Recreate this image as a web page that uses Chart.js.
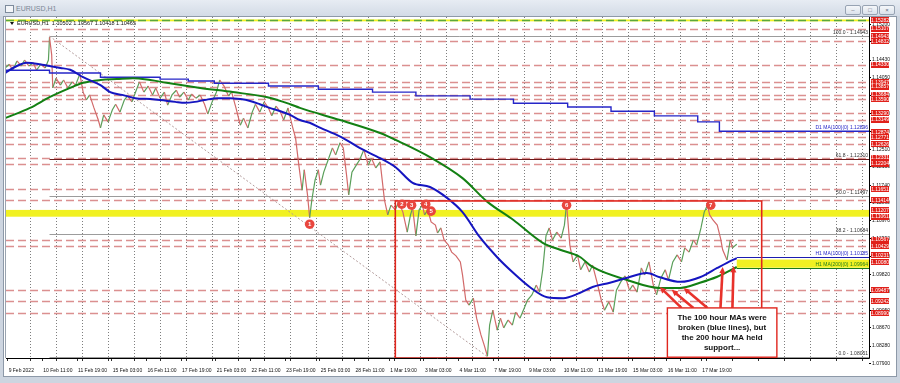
<!DOCTYPE html>
<html>
<head>
<meta charset="utf-8">
<title>EURUSD,H1</title>
<script src="https://cdn.jsdelivr.net/npm/chart.js@4.4.1/dist/chart.umd.min.js"></script>
<style>
  html, body { margin: 0; padding: 0; }
  body { width: 900px; height: 383px; overflow: hidden; position: relative; background: #cdd5e0; font-family: "Liberation Sans", Arial, sans-serif; }
  .titlebar { position: absolute; left: 0; top: 0; width: 900px; height: 16px; background: linear-gradient(#e7ecf3, #d3dbe6); }
  .titlebar .icon { position: absolute; left: 5px; top: 5px; width: 7px; height: 6px; border: 1px solid #7d8b9c; background: #f4f6f9; }
  .titlebar .name { position: absolute; left: 16px; top: 5px; font-size: 7px; color: #7b8796; }
  .btn { position: absolute; top: 5px; width: 14px; height: 8px; border: 1px solid #97a3b3; border-radius: 2px; background: linear-gradient(#f5f7fa, #dbe2eb); font-size: 6px; line-height: 8px; text-align: center; color: #5d6a7a; }
  .panel { position: absolute; left: 4px; top: 17px; width: 892px; height: 359px; background: #fff; box-shadow: 0 0 0 1px #8d99a8; }
  canvas { display: block; }
</style>
</head>
<body>
<div class="titlebar">
  <div class="icon"></div><div class="name">EURUSD,H1</div>
  <div class="btn" style="left:845px">&ndash;</div><div class="btn" style="left:862px">&#9633;</div><div class="btn" style="left:879px">&times;</div>
</div>
<div class="panel"><canvas id="chart" width="892" height="359"></canvas></div>
<script>
// x = hourly bar number counted from 9 Feb 2022 00:00 (weekend hours skipped)
const xMin = 1.85, xMax = 798;
const yMin = 1.08023, yMax = 1.15355;

const xLabelHours = [3, 35, 67, 99, 131, 163, 195, 227, 259, 291, 323, 355, 387, 419, 451, 483, 515, 547, 579, 611, 643];
const xLabelTexts = ['9 Feb 2022', '10 Feb 11:00', '11 Feb 19:00', '15 Feb 03:00', '16 Feb 11:00', '17 Feb 19:00',
  '21 Feb 03:00', '22 Feb 11:00', '23 Feb 19:00', '25 Feb 03:00', '28 Feb 11:00', '1 Mar 19:00', '3 Mar 03:00',
  '4 Mar 11:00', '7 Mar 19:00', '9 Mar 03:00', '10 Mar 11:00', '11 Mar 19:00', '15 Mar 03:00', '16 Mar 11:00', '17 Mar 19:00'];
const dayStartHours = [24, 48, 72, 96, 120, 144, 168, 192, 216, 240, 264, 288, 312, 336, 360, 384, 408, 432, 456,
  480, 504, 528, 552, 576, 600, 624, 648, 672, 696, 720, 744, 768, 792];
const yTickValues = [1.07900, 1.08280, 1.08670, 1.09050, 1.09440, 1.09820, 1.10210, 1.10590, 1.10970, 1.11360,
  1.11740, 1.12130, 1.12510, 1.12900, 1.13280, 1.13670, 1.14050, 1.14430, 1.14820, 1.15200];

const priceHour = [
  1, 5, 8, 12, 16, 19, 23, 27, 30, 34,
  38, 41, 42, 44, 45, 48, 52, 55, 59, 63,
  66, 70, 73, 76, 79, 83, 87, 89, 92, 96,
  100, 103, 107, 111, 114, 118, 122, 125, 129, 133,
  137, 140, 144, 148, 151, 155, 159, 162, 166, 170,
  173, 177, 181, 185, 188, 192, 196, 199, 203, 207,
  210, 214, 218, 221, 225, 229, 232, 236, 240, 244,
  247, 251, 255, 258, 262, 266, 269, 272, 275, 277,
  280, 282, 284, 287, 290, 292, 295, 299, 303, 306,
  310, 313, 316, 318, 321, 325, 328, 332, 336, 339,
  343, 347, 351, 354, 357, 361, 364, 368, 372, 375,
  377, 380, 383, 386, 388, 391, 394, 398, 400, 403,
  406, 410, 413, 417, 421, 423, 426, 429, 433, 436,
  440, 443, 446, 448, 451, 455, 458, 461, 465, 469,
  472, 476, 480, 483, 487, 491, 494, 497, 500, 503,
  506, 510, 514, 517, 519, 522, 525, 529, 532, 536,
  540, 543, 547, 551, 554, 558, 562, 565, 569, 573,
  577, 580, 584, 588, 591, 595, 599, 602, 606, 610,
  613, 617, 621, 625, 628, 632, 636, 639, 643, 646,
  649, 651, 654, 658, 661, 663, 667, 670, 672, 676];
const priceClose = [
  1.1426, 1.1434, 1.1421, 1.1441, 1.1430, 1.1443, 1.1430, 1.1437, 1.1421, 1.1434,
  1.1426, 1.1443, 1.1492, 1.1454, 1.1383, 1.1404, 1.1389, 1.1400, 1.1383, 1.1396,
  1.1389, 1.1413, 1.1374, 1.1357, 1.1368, 1.1340, 1.1314, 1.1297, 1.1325, 1.1310,
  1.1336, 1.1348, 1.1331, 1.1357, 1.1366, 1.1353, 1.1378, 1.1396, 1.1374, 1.1387,
  1.1368, 1.1383, 1.1361, 1.1374, 1.1346, 1.1368, 1.1378, 1.1363, 1.1374, 1.1357,
  1.1370, 1.1361, 1.1368, 1.1348, 1.1327, 1.1353, 1.1374, 1.1400, 1.1387, 1.1366,
  1.1374, 1.1340, 1.1303, 1.1318, 1.1297, 1.1331, 1.1348, 1.1331, 1.1353, 1.1340,
  1.1323, 1.1344, 1.1331, 1.1314, 1.1340, 1.1301, 1.1275, 1.1217, 1.1163, 1.1207,
  1.1153, 1.1104, 1.1142, 1.1185, 1.1207, 1.1174, 1.1202, 1.1228, 1.1254, 1.1239,
  1.1265, 1.1254, 1.1196, 1.1153, 1.1202, 1.1217, 1.1228, 1.1250, 1.1217, 1.1232,
  1.1211, 1.1224, 1.1142, 1.1110, 1.1131, 1.1121, 1.1138, 1.1116, 1.1073, 1.1110,
  1.1125, 1.1065, 1.1121, 1.1131, 1.1110, 1.1121, 1.1095, 1.1088, 1.1071, 1.1082,
  1.1056, 1.1045, 1.1030, 1.1022, 1.1009, 1.0981, 1.0927, 1.0916, 1.0931, 1.0888,
  1.0852, 1.0830, 1.0806, 1.0873, 1.0905, 1.0862, 1.0888, 1.0867, 1.0884, 1.0873,
  1.0901, 1.0888, 1.0910, 1.0927, 1.0938, 1.0959, 1.0944, 1.0992, 1.1065, 1.1082,
  1.1056, 1.1073, 1.1060, 1.1088, 1.1133, 1.1045, 1.1009, 1.1024, 1.0992, 1.1009,
  1.0987, 1.1002, 1.0966, 1.0927, 1.0905, 1.0923, 1.0901, 1.0948, 1.0966, 1.0979,
  1.0948, 1.0959, 1.0944, 1.0996, 1.0981, 1.1009, 1.0959, 1.0938, 1.0974, 1.0992,
  1.0970, 1.1009, 1.1024, 1.1009, 1.1039, 1.1030, 1.1056, 1.1045, 1.1082, 1.1116,
  1.1131, 1.1110, 1.1099, 1.1088, 1.1060, 1.1035, 1.1013, 1.1056, 1.1039, 1.1047];

// 100 hour MA (blue)
const ma100Hour = [1, 10, 21, 33, 42, 52, 61, 73, 89, 98, 109, 121, 135, 144, 158, 167, 176, 185, 197, 208,
  218, 227, 236, 245, 255, 264, 273, 282, 292, 305, 316, 328, 347, 361, 377, 393, 409, 423, 439, 455,
  470, 485, 501, 516, 531, 543, 559, 575, 593, 605, 624, 642, 658, 667, 676];
const ma100Value = [1.1415, 1.1428, 1.1437, 1.1434, 1.1430, 1.1426, 1.1422, 1.1406, 1.1389, 1.1374,
  1.1368, 1.1361, 1.1359, 1.1357, 1.1353, 1.1351, 1.1353, 1.1357, 1.1361, 1.1361,
  1.1359, 1.1355, 1.1348, 1.1340, 1.1333, 1.1325, 1.1314, 1.1308, 1.1297, 1.1284,
  1.1271, 1.1254, 1.1232, 1.1213, 1.1179, 1.1170, 1.1146, 1.1116, 1.1062, 1.1019,
  1.0985, 1.0955, 1.0933, 1.0931, 1.0942, 1.0955, 1.0964, 1.0975, 1.0985, 1.0976,
  1.0966, 1.0976, 1.0996, 1.1007, 1.1017];
// 200 hour MA (green)
const ma200Hour = [1, 24, 42, 61, 73, 89, 104, 119, 135, 150, 181, 211, 243, 264, 273, 310, 347, 365, 393, 423,
  446, 470, 497, 513, 531, 543, 575, 605, 624, 642, 658, 676];
const ma200Value = [1.1318, 1.1340, 1.1363, 1.1383, 1.1394, 1.1400, 1.1402, 1.1404, 1.1400, 1.1394,
  1.1383, 1.1374, 1.1363, 1.1348, 1.1340, 1.1314, 1.1286, 1.1267, 1.1234, 1.1189,
  1.1138, 1.1099, 1.1050, 1.1035, 1.1020, 1.0998, 1.0970, 1.0953, 1.0953, 1.0964, 1.0977, 1.0998];
// daily 100 MA (steps once a day)
const d1Hour = [1, 42, 89, 144, 170, 194, 244, 290, 340, 380, 430, 470, 520, 560, 600, 640, 660, 798];
const d1Value = [1.1421, 1.1415, 1.1406, 1.1402, 1.1398, 1.1393, 1.1387, 1.1380, 1.1374, 1.1366,
  1.1359, 1.1350, 1.1342, 1.1333, 1.1323, 1.1310, 1.1290, 1.1290];

const levelPrices = [1.15107, 1.14832, 1.14330, 1.13947, 1.13857, 1.13684, 1.13590, 1.13290, 1.13149, 1.12874,
  1.12771, 1.12626, 1.12331, 1.12204, 1.11651, 1.11414, 1.10567, 1.10429, 1.09487, 1.09242, 1.08990];
const axisLabelPrices = [1.15282, 1.15107, 1.14943, 1.14832, 1.14330, 1.13947, 1.13857, 1.13684, 1.13590, 1.13290,
  1.13149, 1.12874, 1.12771, 1.12626, 1.12331, 1.12204, 1.11651, 1.11414, 1.11207, 1.11061,
  1.10567, 1.10429, 1.10231, 1.10080, 1.09487, 1.09242, 1.08990];
const topLevel = 1.15282;
const bandLow = [1.15262, 1.11061, 1.09964];
const bandHigh = [1.15302, 1.11207, 1.10140];
const bandFromHour = [xMin, xMin, 676];

const fibPrices = [1.14943, 1.12310, 1.11497, 1.10684, 1.08051];
const fibNames = ['100.0', '61.8', '50.0', '38.2', '0.0'];
const fibAnchorHour = [42, 446];
const fibAnchorPrice = [1.14943, 1.08051];

const lastHour = 676;
const maLinePrices = [1.12896, 1.10185, 1.09964];
const maLineNames = ['D1 MA(100)(0) 1.12896', 'H1 MA(100)(0) 1.10185', 'H1 MA(200)(0) 1.09964'];

const markerHour = [282, 367, 376, 389, 394, 519, 652];
const markerPrice = [1.1090, 1.1133, 1.1131, 1.1133, 1.1118, 1.1131, 1.1131];
const markerText = ['1', '2', '3', '4', '5', '6', '7'];

const boxHour = [361, 699];
const boxPrice = [1.0802, 1.1140];
const noteHour = [612, 713];
const notePrice = [1.0804, 1.0910];
const noteLines = ['The 100 hour MAs were', 'broken (blue lines), but', 'the 200 hour MA held', 'support...'];
const arrowFromHour = [625, 636, 649, 661, 672];
const arrowFromPrice = [1.0910, 1.0910, 1.0910, 1.0910, 1.0910];
const arrowToHour = [605, 616, 627, 663, 673];
const arrowToPrice = [1.0955, 1.0949, 1.0953, 1.0998, 1.1000];

const headerText = 'EURUSD,H1  1.10502 1.10567 1.10418 1.10465';

const FONT = '"Liberation Sans", Arial, sans-serif';
const fmt = v => v.toFixed(5);
const pts = (xs, ys) => xs.map((h, i) => ({ x: h, y: ys[i] }));

function hline(ctx, x0, x1, yy) {
  ctx.beginPath();
  ctx.moveTo(x0, yy);
  ctx.lineTo(x1, yy);
  ctx.stroke();
}

function arrow(ctx, x0, y0, x1, y1) {
  const ang = Math.atan2(y1 - y0, x1 - x0);
  const head = 7;
  ctx.beginPath();
  ctx.moveTo(x0, y0);
  ctx.lineTo(x1 - Math.cos(ang) * head * 0.7, y1 - Math.sin(ang) * head * 0.7);
  ctx.stroke();
  ctx.beginPath();
  ctx.moveTo(x1, y1);
  ctx.lineTo(x1 - head * Math.cos(ang - 0.45), y1 - head * Math.sin(ang - 0.45));
  ctx.lineTo(x1 - head * Math.cos(ang + 0.45), y1 - head * Math.sin(ang + 0.45));
  ctx.closePath();
  ctx.fill();
}

const drawings = {
  id: 'drawings',
  beforeDatasetsDraw(chart) {
    const { ctx, chartArea: a, scales: { x, y } } = chart;
    const py = p => Math.round(y.getPixelForValue(p)) + 0.5;

    // day separators (dotted) with small ticks under the axis
    ctx.save();
    ctx.lineWidth = 1;
    dayStartHours.forEach(h => {
      const gx = Math.round(x.getPixelForValue(h)) + 0.5;
      if (gx > a.right) return;
      ctx.strokeStyle = '#7e7e7e';
      ctx.setLineDash([1, 2]);
      ctx.beginPath(); ctx.moveTo(gx, a.top); ctx.lineTo(gx, a.bottom); ctx.stroke();
      ctx.setLineDash([]);
      ctx.strokeStyle = '#333';
      ctx.beginPath(); ctx.moveTo(gx, a.bottom); ctx.lineTo(gx, a.bottom + 3); ctx.stroke();
    });
    xLabelHours.forEach(h => {
      const gx = Math.round(x.getPixelForValue(h)) + 0.5;
      ctx.strokeStyle = '#333';
      ctx.beginPath(); ctx.moveTo(gx, a.bottom); ctx.lineTo(gx, a.bottom + 3); ctx.stroke();
    });
    ctx.restore();

    ctx.save();
    ctx.beginPath();
    ctx.rect(a.left, a.top, a.right - a.left, a.bottom - a.top);
    ctx.clip();

    // yellow zones
    ctx.fillStyle = '#f1f122';
    bandLow.forEach((lo, i) => {
      const left = x.getPixelForValue(bandFromHour[i]);
      const top = y.getPixelForValue(bandHigh[i]);
      ctx.fillRect(left, top, a.right - left, y.getPixelForValue(lo) - top);
    });

    // red dashed levels
    ctx.lineWidth = 1.6;
    ctx.setLineDash([8, 4]);
    ctx.strokeStyle = '#db9090';
    levelPrices.forEach(p => hline(ctx, a.left, a.right, py(p)));
    ctx.strokeStyle = '#5aa83a';
    hline(ctx, a.left, a.right, py(topLevel));

    // fibonacci retracement
    ctx.setLineDash([]);
    ctx.lineWidth = 1;
    const fx = x.getPixelForValue(fibAnchorHour[0]);
    fibPrices.forEach((p, i) => {
      ctx.strokeStyle = fibNames[i] === '61.8' ? '#6e1c1c' : '#9c9c9c';
      hline(ctx, fx, a.right, py(p));
    });
    ctx.setLineDash([2, 2]);
    ctx.strokeStyle = '#b39c9c';
    ctx.beginPath();
    ctx.moveTo(fx, y.getPixelForValue(fibAnchorPrice[0]));
    ctx.lineTo(x.getPixelForValue(fibAnchorHour[1]), y.getPixelForValue(fibAnchorPrice[1]));
    ctx.stroke();
    ctx.restore();
  },

  afterDatasetsDraw(chart) {
    const { ctx, chartArea: a, scales: { x, y } } = chart;
    const py = p => Math.round(y.getPixelForValue(p)) + 0.5;
    ctx.save();
    ctx.beginPath();
    ctx.rect(a.left, a.top, a.right - a.left, a.bottom - a.top);
    ctx.clip();

    // current MA values carried to the right edge
    const xLast = x.getPixelForValue(lastHour);
    ctx.lineWidth = 1.2;
    ctx.strokeStyle = '#1c1cb0';
    hline(ctx, xLast, a.right, py(maLinePrices[1]));
    ctx.strokeStyle = '#1a7a1a';
    hline(ctx, xLast, a.right, py(maLinePrices[2]));

    // right side captions
    ctx.font = '5px ' + FONT;
    ctx.textAlign = 'right';
    ctx.textBaseline = 'bottom';
    ctx.fillStyle = '#333';
    fibPrices.forEach((p, i) => ctx.fillText(fibNames[i] + ' - ' + fmt(p), a.right - 1, py(p) - 1));
    const capColors = ['#2626c8', '#2626c8', '#1f7d1f'];
    maLinePrices.forEach((p, i) => {
      ctx.fillStyle = capColors[i];
      ctx.fillText(maLineNames[i], a.right - 1, py(p) - 1);
    });

    // red study box
    ctx.strokeStyle = '#e0261e';
    ctx.lineWidth = 1.6;
    const bx0 = x.getPixelForValue(boxHour[0]), bx1 = x.getPixelForValue(boxHour[1]);
    const by0 = y.getPixelForValue(boxPrice[1]), by1 = y.getPixelForValue(boxPrice[0]);
    ctx.strokeRect(bx0, by0, bx1 - bx0, by1 - by0);

    // arrows
    ctx.strokeStyle = '#e8322b';
    ctx.fillStyle = '#e8322b';
    ctx.lineWidth = 2.6;
    arrowFromHour.forEach((h, i) => arrow(ctx,
      x.getPixelForValue(h), y.getPixelForValue(arrowFromPrice[i]),
      x.getPixelForValue(arrowToHour[i]), y.getPixelForValue(arrowToPrice[i])));

    // note
    const nx0 = x.getPixelForValue(noteHour[0]), nx1 = x.getPixelForValue(noteHour[1]);
    const ny0 = y.getPixelForValue(notePrice[1]), ny1 = y.getPixelForValue(notePrice[0]);
    ctx.fillStyle = '#fff';
    ctx.fillRect(nx0, ny0, nx1 - nx0, ny1 - ny0);
    ctx.lineWidth = 1.4;
    ctx.strokeStyle = '#e0261e';
    ctx.strokeRect(nx0, ny0, nx1 - nx0, ny1 - ny0);
    ctx.fillStyle = '#111';
    ctx.font = 'bold 8px ' + FONT;
    ctx.textAlign = 'center';
    ctx.textBaseline = 'middle';
    noteLines.forEach((t, i) => ctx.fillText(t, (nx0 + nx1) / 2, ny0 + 10 + i * 10));

    // numbered touches
    ctx.font = 'bold 6px ' + FONT;
    markerHour.forEach((h, i) => {
      const cx = x.getPixelForValue(h), cy = y.getPixelForValue(markerPrice[i]);
      ctx.fillStyle = '#e8463e';
      ctx.beginPath();
      ctx.arc(cx, cy, 4.8, 0, Math.PI * 2);
      ctx.fill();
      ctx.fillStyle = '#fff';
      ctx.fillText(markerText[i], cx, cy + 0.5);
    });

    // symbol header
    ctx.fillStyle = '#111';
    ctx.beginPath();
    ctx.moveTo(a.left + 4, a.top + 5);
    ctx.lineTo(a.left + 8, a.top + 5);
    ctx.lineTo(a.left + 6, a.top + 8);
    ctx.closePath();
    ctx.fill();
    ctx.font = '5.5px ' + FONT;
    ctx.textAlign = 'left';
    ctx.fillText(headerText, a.left + 11, a.top + 6.5);
    ctx.restore();
  },

  afterDraw(chart) {
    const { ctx, chartArea: a, scales: { y } } = chart;
    ctx.save();
    ctx.strokeStyle = '#000';
    ctx.lineWidth = 1;
    ctx.beginPath();
    ctx.moveTo(a.right + 0.5, a.top);
    ctx.lineTo(a.right + 0.5, a.bottom + 0.5);
    ctx.lineTo(a.left, a.bottom + 0.5);
    ctx.stroke();
    ctx.strokeStyle = '#9aa4b0';
    ctx.beginPath();
    ctx.moveTo(a.left - 0.5, a.top);
    ctx.lineTo(a.left - 0.5, a.bottom);
    ctx.stroke();

    // red price tags on the axis
    ctx.font = '5px ' + FONT;
    ctx.textAlign = 'center';
    ctx.textBaseline = 'middle';
    axisLabelPrices.forEach(p => {
      const cy = y.getPixelForValue(p);
      ctx.fillStyle = '#e0201a';
      ctx.fillRect(a.right + 2, Math.round(cy - 3), 18, 6);
      ctx.fillStyle = '#fff';
      ctx.fillText(fmt(p), a.right + 11, cy + 0.3);
    });
    ctx.restore();
  }
};

new Chart(document.getElementById('chart'), {
  type: 'line',
  data: {
    datasets: [
      {
        label: 'H1 MA(100)',
        data: pts(ma100Hour, ma100Value),
        borderColor: '#1515c0',
        borderWidth: 2,
        cubicInterpolationMode: 'monotone'
      },
      {
        label: 'H1 MA(200)',
        data: pts(ma200Hour, ma200Value),
        borderColor: '#138013',
        borderWidth: 2,
        cubicInterpolationMode: 'monotone'
      },
      {
        label: 'D1 MA(100)',
        data: pts(d1Hour, d1Value),
        borderColor: '#2626c8',
        borderWidth: 1.4,
        stepped: true
      },
      {
        label: 'EURUSD',
        data: pts(priceHour, priceClose),
        borderWidth: 1.2,
        borderColor: '#5a9f5a',
        segment: {
          borderColor: c => (c.p1.parsed.y >= c.p0.parsed.y ? '#5a9f5a' : '#d26a6a')
        }
      }
    ]
  },
  options: {
    responsive: false,
    animation: false,
    events: [],
    layout: { padding: { left: 2, top: 0, right: 0, bottom: 0 } },
    elements: { point: { radius: 0 }, line: { tension: 0 } },
    plugins: { legend: { display: false }, tooltip: { enabled: false } },
    scales: {
      x: {
        type: 'linear',
        min: xMin,
        max: xMax,
        afterBuildTicks: scale => {
          scale.ticks = xLabelHours.map(v => ({ value: v }));
        },
        afterFit: scale => {
          scale.height = 18;
          scale.paddingLeft = 0;
          scale.paddingRight = 0;
        },
        ticks: {
          autoSkip: false,
          maxRotation: 0,
          minRotation: 0,
          align: 'start',
          padding: 10,
          color: '#111',
          font: { size: 5, family: FONT },
          callback: v => {
            const i = xLabelHours.indexOf(v);
            return i >= 0 ? ' ' + xLabelTexts[i] : '';
          }
        },
        grid: { display: false, drawTicks: false, tickLength: 0 },
        border: { display: false }
      },
      y: {
        position: 'right',
        min: yMin,
        max: yMax,
        afterBuildTicks: scale => {
          scale.ticks = yTickValues.map(v => ({ value: v }));
        },
        afterFit: scale => {
          scale.width = 27;
          scale.paddingTop = 0;
          scale.paddingBottom = 0;
        },
        ticks: {
          padding: 1,
          color: '#111',
          font: { size: 5, family: FONT },
          callback: v => fmt(v)
        },
        grid: { drawOnChartArea: false, tickLength: 2, color: '#000' },
        border: { display: false }
      }
    }
  },
  plugins: [drawings]
});
</script>
</body>
</html>
